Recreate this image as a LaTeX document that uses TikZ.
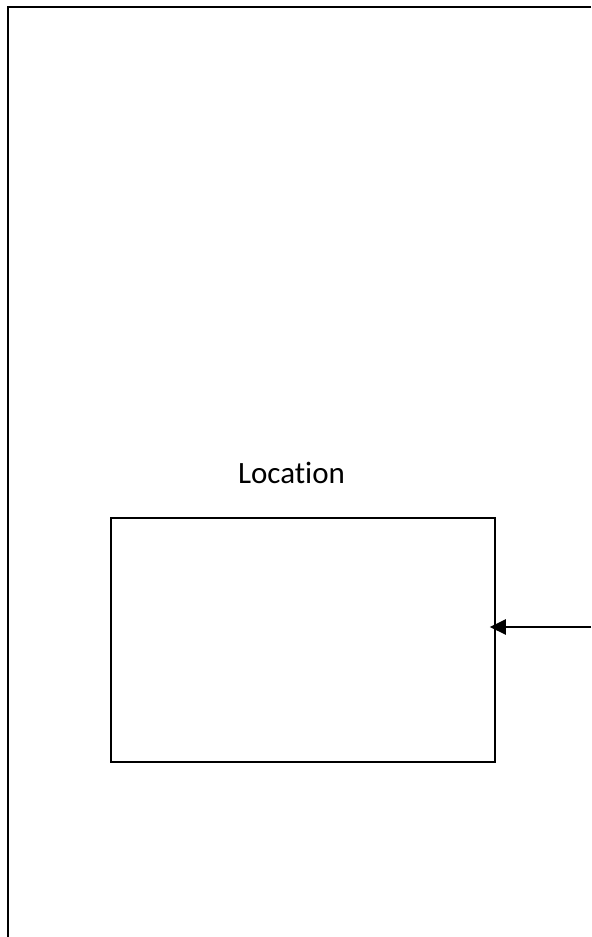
\documentclass[tikz,border=0pt]{standalone}
\usepackage{fontspec}
\setmainfont[Ligatures=NoCommon]{Carlito}
\usepackage{tikz}
\usetikzlibrary{arrows.meta}

\begin{document}
\begin{tikzpicture}[x=0.5pt,y=-0.5pt,
  frame/.style={line width=1.1pt},
  locbox/.style={draw,line width=0.75pt,minimum width=192pt,minimum height=122pt,inner sep=0pt},
  feed/.style={line width=1pt,-{Triangle[length=8pt,width=7.5pt]},shorten >=-3pt}]
\useasboundingbox (0,0) rectangle (591,937);
\draw[frame] (591,7) -- (8,7) -- (8,937);
\node[locbox] (loc) at (303,640) {};
\node[anchor=base,font=\fontsize{15.5}{18}\selectfont] (loclabel) at (291.5,483) {Location};
\coordinate (src) at (591,627);
\draw[feed] (src) -- (src -| loc.east);
\end{tikzpicture}
\end{document}
